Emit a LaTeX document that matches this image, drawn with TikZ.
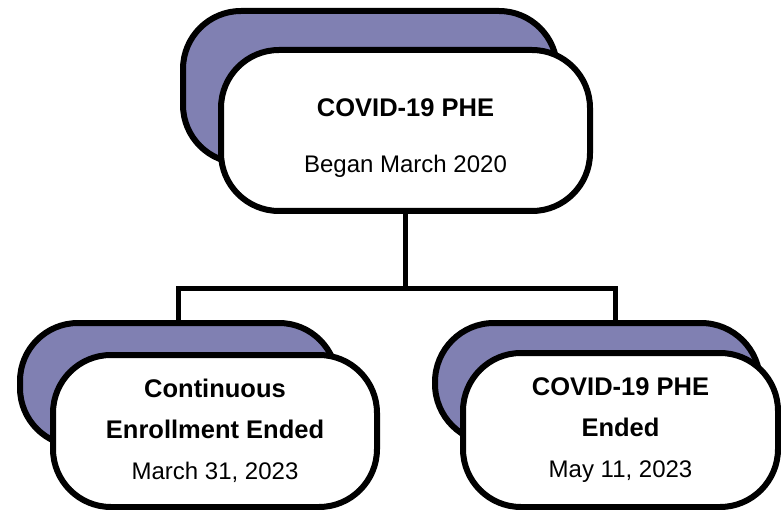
\documentclass[tikz,border=0pt]{standalone}
\usepackage{fontspec}
\setmainfont{Liberation Sans}
\definecolor{phepurple}{RGB}{128,128,178}
\newcommand{\headline}[1]{{\fontsize{25.5}{41}\selectfont\bfseries #1}}
\begin{document}
\begin{tikzpicture}[x=1pt,y=-1pt,
        back/.style={draw=black, line width=6pt, fill=phepurple, rounded corners=58pt, inner sep=0pt},
        front/.style={draw=black, line width=6pt, fill=white, rounded corners=58pt, inner sep=0pt, align=center},
        link/.style={line width=5pt}]
        \useasboundingbox (0,0) rectangle (781,510);
        % top: start of the PHE
        \node[back, minimum width=374pt, minimum height=152pt] (topback) at (370,87) {};
        \node[front, minimum width=369pt, minimum height=161pt, font=\fontsize{24}{56}\selectfont] (top) at (405.5,130.5)
            {\rule{0pt}{32pt}\headline{COVID-19 PHE}\\Began March 2020};
        % bottom: the two ends
        \node[back, minimum width=317pt, minimum height=123pt] (leftback) at (178.5,384.5) {};
        \node[back, minimum width=325pt, minimum height=120pt, rounded corners=59pt] (rightback) at (597.5,383) {};
        \draw[link] (top.south) -- ++(0,75) coordinate (split);
        \draw[link] (leftback.north) |- (split) -| ([xshift=18pt]rightback.north);
        \node[front, minimum width=324pt, minimum height=152pt, font=\fontsize{24}{41}\selectfont] (left) at (215,431)
            {\headline{Continuous}\\\headline{Enrollment Ended}\\March 31, 2023};
        \node[front, minimum width=315pt, minimum height=154pt, font=\fontsize{24}{41}\selectfont] (right) at (620.5,430)
            {\headline{COVID-19 PHE}\\\headline{Ended}\\May 11, 2023};
    \end{tikzpicture}
\end{document}
